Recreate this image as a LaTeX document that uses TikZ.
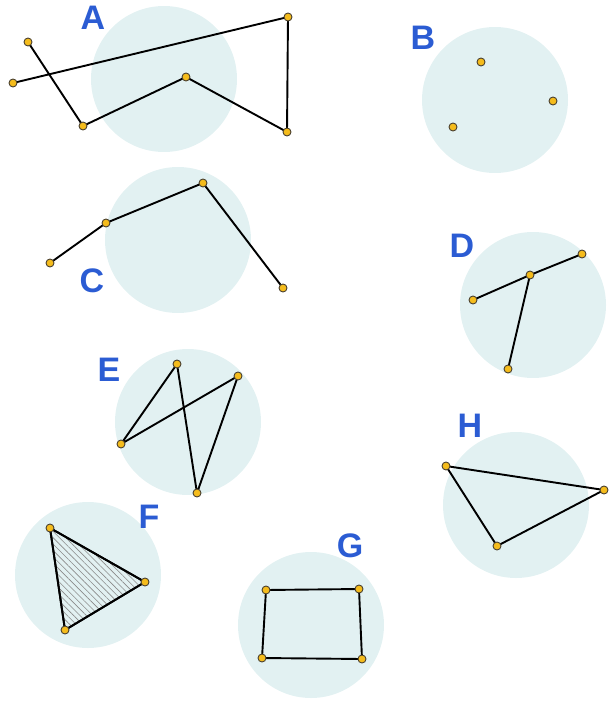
\documentclass[tikz,border=0pt]{standalone}
\usepackage{fontspec}
\setsansfont{Liberation Sans}
\usetikzlibrary{patterns.meta}
\definecolor{cdisc}{HTML}{E2F1F2}
\definecolor{cdot}{HTML}{F5BC1C}
\definecolor{cdotrim}{HTML}{4A4030}
\definecolor{clabel}{HTML}{2B5CD3}
\definecolor{chatch}{HTML}{8A8A8A}
\tikzset{
  every picture/.style={x=1pt, y=-1pt, line width=1.9pt},
  disc/.style={circle, fill=cdisc, minimum size=146pt, inner sep=0pt},
  vtx/.style={circle, draw=cdotrim, fill=cdot, line width=0.9pt, minimum size=8pt, inner sep=0pt},
  lbl/.style={text=clabel, font=\sffamily\bfseries\fontsize{34}{34}\selectfont, inner sep=0pt},
  edge/.style={draw=black, line join=round},
  hatch/.style={pattern={Lines[angle=-45, distance=4.5pt, line width=0.6pt]}, pattern color=chatch},
}

\begin{document}
\begin{tikzpicture}
  \useasboundingbox (0,0) rectangle (615,701);
  \foreach \n/\x/\y in {A/164/79, B/495/100, C/178/240, D/533/305,
                        E/188/422, F/88/575, G/311/625, H/516/505} {
    \node[disc] (c\n) at (\x,\y) {};
  }
  \coordinate (a1) at (28,42);   \coordinate (a2) at (83,126);
  \coordinate (a3) at (186,77);  \coordinate (a4) at (287,132);
  \coordinate (a5) at (288,17);  \coordinate (a6) at (13,83);
  \coordinate (b1) at (481,62);  \coordinate (b2) at (553,101);
  \coordinate (b3) at (453,127);
  \coordinate (c1) at (50,263);  \coordinate (c2) at (106,223);
  \coordinate (c3) at (203,183); \coordinate (c4) at (283,288);
  \coordinate (d1) at (473,300); \coordinate (d2) at (530,275);
  \coordinate (d3) at (582,254); \coordinate (d4) at (508,369);
  \coordinate (e1) at (121,444); \coordinate (e2) at (177,364);
  \coordinate (e3) at (197,493); \coordinate (e4) at (238,376);
  \coordinate (f1) at (50,528);  \coordinate (f2) at (145,582);
  \coordinate (f3) at (65,630);
  \coordinate (g1) at (266,590); \coordinate (g2) at (359,589);
  \coordinate (g3) at (362,659); \coordinate (g4) at (262,658);
  \coordinate (h1) at (446,466); \coordinate (h2) at (604,490);
  \coordinate (h3) at (497,546);
  \draw[edge] (a1) -- (a2) -- (a3) -- (a4) -- (a5) -- (a6);
  \draw[edge] (c1) -- (c2) -- (c3) -- (c4);
  \draw[edge] (d1) -- (d2) -- (d3) (d2) -- (d4);
  \draw[edge] (e1) -- (e2) -- (e3) -- (e4) -- cycle;
  \draw[edge, hatch] (f1) -- (f2) -- (f3) -- cycle;
  \draw[edge] (f1) -- (f2) -- (f3) -- cycle;
  \draw[edge] (g1) -- (g2) -- (g3) -- (g4) -- cycle;
  \draw[edge] (h1) -- (h2) -- (h3) -- cycle;
  \foreach \v in {a1,a2,a3,a4,a5,a6,b1,b2,b3,c1,c2,c3,c4,d1,d2,d3,d4,
                  e1,e2,e3,e4,f1,f2,f3,g1,g2,g3,g4,h1,h2,h3} {
    \node[vtx] (p\v) at (\v) {};
  }
  \foreach \n/\x/\y in {A/93/18, B/423/38, C/92/281, D/462/246,
                        E/109/370, F/149/517, G/350/546, H/470/426} {
    \node[lbl] (l\n) at (\x,\y) {\n};
  }
\end{tikzpicture}
\end{document}
